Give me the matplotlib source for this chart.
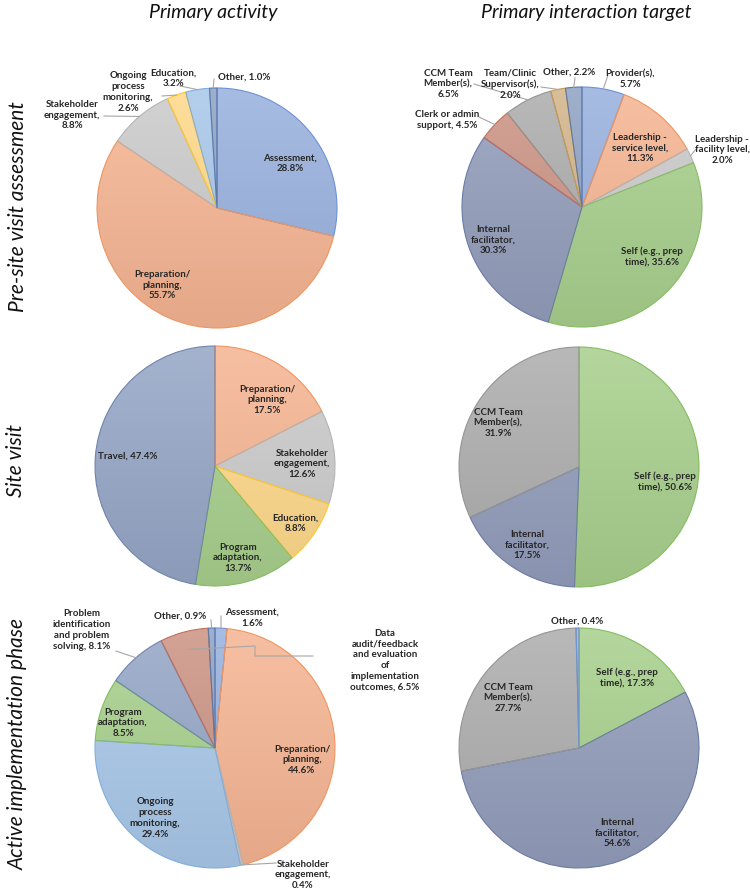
import numpy as np
import matplotlib
matplotlib.use("Agg")
import matplotlib.pyplot as plt
from matplotlib.colors import to_rgb

plt.rcParams['font.family'] = ['Lato', 'DejaVu Sans']

W, H = 750, 895

# ---- data ----
col_titles = ['Primary activity', 'Primary interaction target']
row_titles = ['Pre-site visit assessment', 'Site visit', 'Active implementation phase']

pre_act_labels = ['Assessment', 'Preparation/\nplanning', 'Stakeholder\nengagement',
                  'Ongoing\nprocess\nmonitoring', 'Education', 'Other']
pre_act_values = [28.8, 55.7, 8.8, 2.6, 3.2, 1.0]

pre_tgt_labels = ['Provider(s)', 'Leadership -\nservice level', 'Leadership -\nfacility level',
                  'Self (e.g., prep\ntime)', 'Internal\nfacilitator', 'Clerk or admin\nsupport',
                  'CCM Team\nMember(s)', 'Team/Clinic\nSupervisor(s)', 'Other']
pre_tgt_values = [5.7, 11.3, 2.0, 35.6, 30.3, 4.5, 6.5, 2.0, 2.2]

site_act_labels = ['Preparation/\nplanning', 'Stakeholder\nengagement', 'Education',
                   'Program\nadaptation', 'Travel']
site_act_values = [17.5, 12.6, 8.8, 13.7, 47.4]

site_tgt_labels = ['Self (e.g., prep\ntime)', 'Internal\nfacilitator', 'CCM Team\nMember(s)']
site_tgt_values = [50.6, 17.5, 31.9]

impl_act_labels = ['Assessment', 'Preparation/\nplanning', 'Stakeholder\nengagement',
                   'Ongoing\nprocess\nmonitoring', 'Program\nadaptation',
                   'Problem\nidentification\nand problem\nsolving',
                   'Data\naudit/feedback\nand evaluation\nof\nimplementation\noutcomes', 'Other']
impl_act_values = [1.6, 44.6, 0.4, 29.4, 8.5, 8.1, 6.5, 0.9]

impl_tgt_labels = ['Self (e.g., prep\ntime)', 'Internal\nfacilitator', 'CCM Team\nMember(s)', 'Other']
impl_tgt_values = [17.3, 54.6, 27.7, 0.4]

# ---- styles (face, edge) ----
BLUE = ('#98B1DE', '#6E92D4')
ORANGE = ('#F6B593', '#F0955E')
GRAY = ('#CBCBCB', '#B5B5B5')
YELLOW = ('#FFD98A', '#FFC62E')
LBLUE = ('#A9C8EA', '#7FAEDD')
GREEN = ('#A8D08D', '#86BD62')
SLATE = ('#95A6C6', '#6F84AE')
SLATE2 = ('#939DBB', '#6C7BA6')
RUST = ('#CC9484', '#C0705A')
DGRAY = ('#ADADAD', '#959595')
TAN = ('#D2B58A', '#C49A55')
BGRAY = ('#8FA3C4', '#5E78A6')

charts = [
    dict(values=pre_act_values, labels=pre_act_labels, center=(217, 209),
         colors=[BLUE, ORANGE, GRAY, YELLOW, LBLUE, BGRAY],
         pos=[(290, 163), (162, 285), (72, 115), (128, 92), (173, 78), (244, 77)],
         anchor=[None, None, (104, 117), (162, 97), (180, 87), (214, 80)],
         same=[False, False, False, False, False, True]),
    dict(values=pre_tgt_values, labels=pre_tgt_labels, center=(582, 208),
         colors=[BLUE, ORANGE, GRAY, GREEN, SLATE2, RUST, DGRAY, TAN, BGRAY],
         pos=[(630, 79), (640, 148), (722, 150), (652, 257), (493, 240),
              (447, 120), (448, 84), (510, 84), (569, 72)],
         anchor=[(608, 76), None, (696, 150), None, None, (479, 118), (474, 85), (541, 88), (575, 79)],
         same=[False, False, False, True, False, True, False, False, True]),
    dict(values=site_act_values, labels=site_act_labels, center=(215, 467),
         colors=[ORANGE, GRAY, YELLOW, GREEN, SLATE],
         pos=[(267, 400), (302, 464), (295, 523), (238, 558), (128, 456)],
         anchor=[None] * 5,
         same=[False, False, False, False, True]),
    dict(values=site_tgt_values, labels=site_tgt_labels, center=(579, 468),
         colors=[GREEN, SLATE2, DGRAY],
         pos=[(665, 482), (527, 545), (498, 423)],
         anchor=[None] * 3,
         same=[True, False, False]),
    dict(values=impl_act_values, labels=impl_act_labels, center=(215, 749),
         colors=[BLUE, ORANGE, GRAY, LBLUE, GREEN, SLATE, RUST, BGRAY],
         pos=[(252, 618), (302, 760), (303, 875), (155, 818), (123, 723),
              (82, 630), (385, 660), (180, 616)],
         anchor=[(221, 617), None, (276, 864), None, None, (116, 652), 'elbow', (211, 621)],
         same=[False, False, False, False, False, True, True, True]),
    dict(values=impl_tgt_values, labels=impl_tgt_labels, center=(579, 749),
         colors=[GREEN, SLATE2, DGRAY, BLUE],
         pos=[(627, 678), (617, 833), (508, 698), (577, 621)],
         anchor=[None] * 4,
         same=[True, False, False, True]),
]

R = 120
TXT = '#262626'
LEAD = '#A6A6A6'


def gradient(color):
    # excel-ish soft vertical gradient: lighter top, a bit darker bottom
    c = np.array(to_rgb(color))
    top = c + (1 - c) * 0.14
    bot = c * 0.93
    t = np.linspace(0, 1, 200)[:, None, None]
    return top[None, None, :] * (1 - t) + bot[None, None, :] * t


fig = plt.figure(figsize=(W / 100, H / 100), dpi=100)
ax = fig.add_axes([0, 0, 1, 1])

for ch in charts:
    cx, cy = ch['center']
    cyd = H - cy
    wedges, _ = ax.pie(ch['values'], colors=[c[0] for c in ch['colors']], startangle=90,
                       counterclock=False, center=(cx, cyd), radius=R,
                       wedgeprops=dict(linewidth=0.8))
    for w, c in zip(wedges, ch['colors']):
        w.set_edgecolor(c[1])
        w.set_facecolor('none')
        w.set_zorder(2)
        im = ax.imshow(gradient(c[0]), extent=(cx - R, cx + R, cyd - R, cyd + R),
                       origin='upper', aspect='auto', zorder=1, interpolation='bilinear')
        im.set_clip_path(w)
    for w, lab, v, p, a, s in zip(wedges, ch['labels'], ch['values'], ch['pos'],
                                  ch['anchor'], ch['same']):
        sep = ' ' if s else '\n'
        ax.text(p[0], H - p[1], f'{lab},{sep}{v:.1f}%', ha='center', va='center',
                fontsize=7, fontweight='bold', color=TXT, linespacing=1.25, zorder=4)
        if a is None:
            continue
        mid = np.deg2rad((w.theta1 + w.theta2) / 2)
        if a == 'elbow':
            ex, ey = cx + 0.85 * R * np.cos(mid), cyd + 0.85 * R * np.sin(mid)
            xs = [313, 255, 255, ex]
            ys = [H - 657, H - 657, H - 647, ey]
        else:
            ex, ey = cx + R * np.cos(mid), cyd + R * np.sin(mid)
            xs = [a[0], ex]
            ys = [H - a[1], ey]
        ax.plot(xs, ys, color=LEAD, lw=0.8, zorder=3)

ax.text(213, H - 12, col_titles[0], ha='center', va='center', fontsize=14, style='italic', color='#111111')
ax.text(586, H - 12, col_titles[1], ha='center', va='center', fontsize=14, style='italic', color='#111111')
ax.text(18, H - 207, row_titles[0], ha='center', va='center', rotation=90, fontsize=15, style='italic', color='#111111')
ax.text(16, H - 461, row_titles[1], ha='center', va='center', rotation=90, fontsize=15, style='italic', color='#111111')
ax.text(18, H - 744, row_titles[2], ha='center', va='center', rotation=90, fontsize=15, style='italic', color='#111111')

ax.set_xlim(0, W)
ax.set_ylim(0, H)
ax.set_aspect('equal')
ax.axis('off')

fig.savefig('out.png', dpi=100, facecolor='white')
